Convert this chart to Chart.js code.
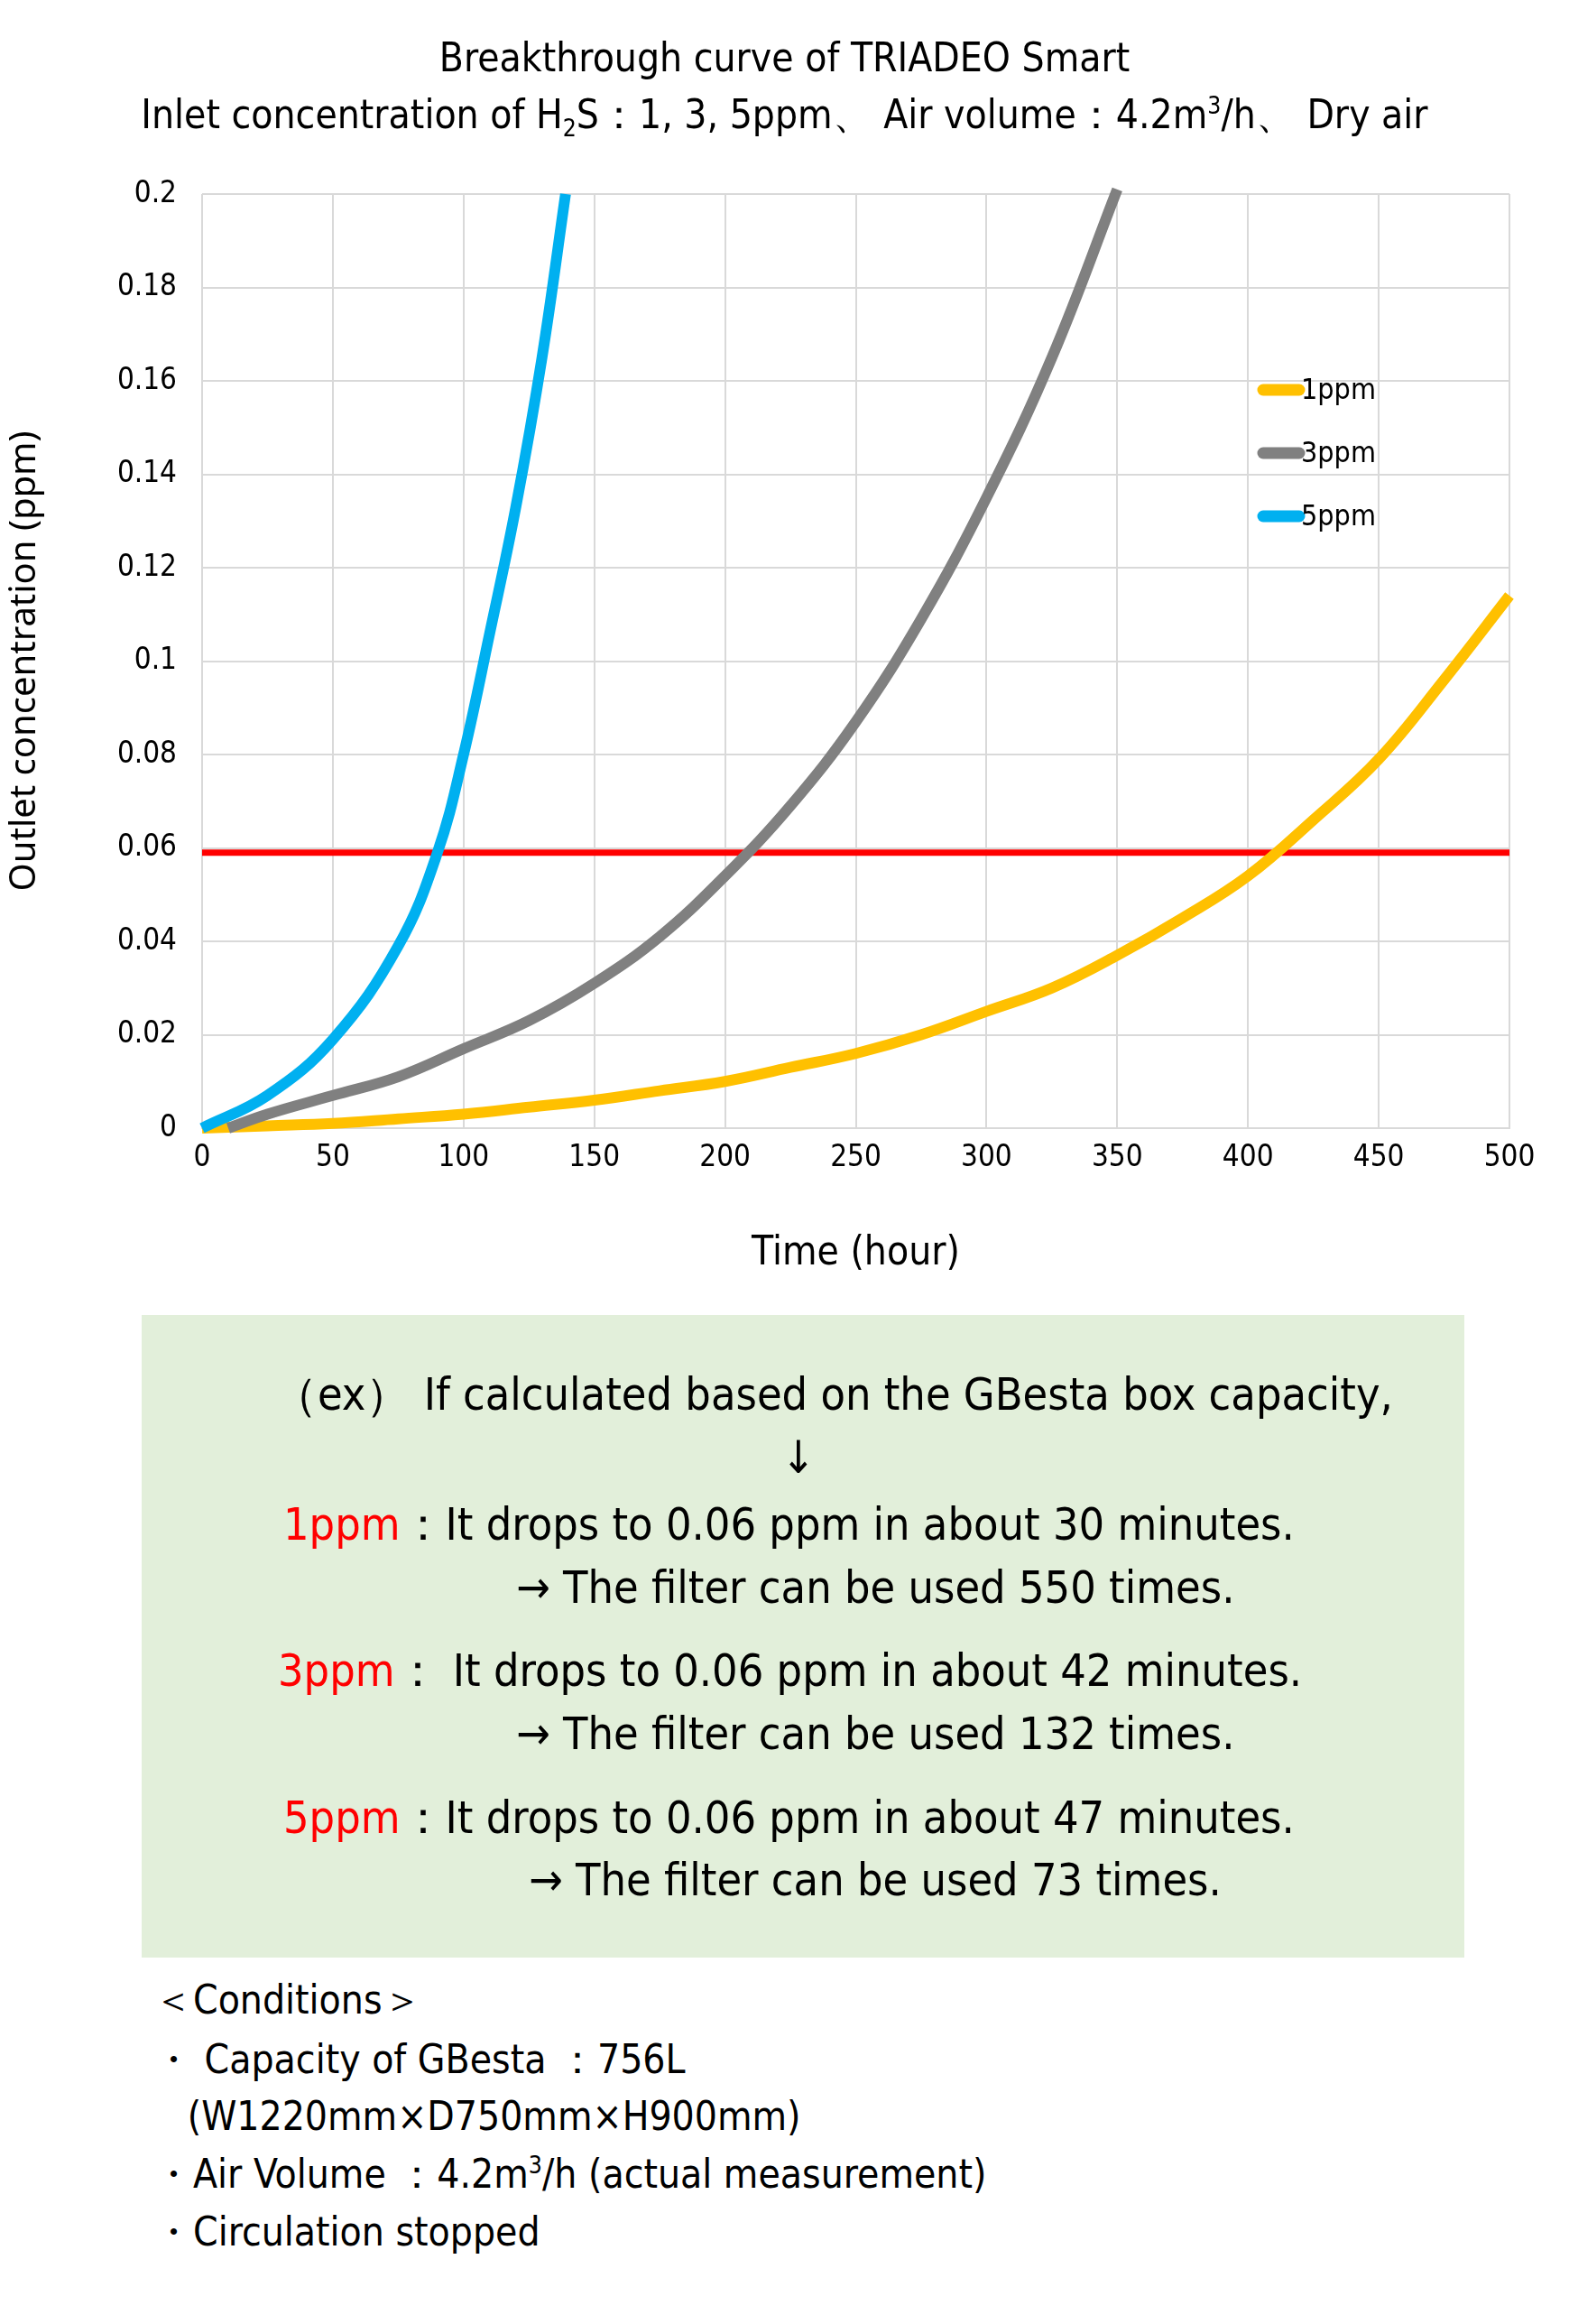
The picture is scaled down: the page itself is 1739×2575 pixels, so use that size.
<!DOCTYPE html>
<html><head><meta charset="utf-8">
<script src="https://cdn.jsdelivr.net/npm/chart.js@4"></script>
<style>
body{margin:0;background:#fff;width:1739px;height:2575px;position:relative;font-family:"Liberation Sans Narrow","DejaVu Sans Condensed",sans-serif;color:#000;overflow:hidden}
.t{position:absolute;left:0;width:1739px;text-align:center;font-size:44px;line-height:1}
#wrap{position:absolute;left:0;top:0;width:1739px;height:1420px}
#box{position:absolute;left:157px;top:1457px;width:1466px;height:712px;background:#e2efda}
.l{position:absolute;font-size:50px;line-height:1;white-space:pre}
.r{color:#ff0000}
.c{position:absolute;left:170px;font-size:44px;line-height:1;white-space:pre}
sub,sup{font-size:60%}
</style></head><body>
<div id="wrap"><canvas id="c"></canvas></div>
<div class="t" style="top:42px">Breakthrough curve of TRIADEO Smart</div>
<div class="t" style="top:104px">Inlet concentration of H<sub>2</sub>S：1, 3, 5ppm、 Air volume：4.2m<sup>3</sup>/h、 Dry air</div>
<div id="box"></div>
<div class="l" style="left:302px;top:1520px">（ex） If calculated based on the GBesta box capacity,</div>
<div class="l" style="left:866px;top:1590px">↓</div>
<div class="l" style="left:314px;top:1664px"><span class="r">1ppm</span>：It drops to 0.06 ppm in about 30 minutes.</div>
<div class="l" style="left:572px;top:1734px">→ The filter can be used 550 times.</div>
<div class="l" style="left:308px;top:1826px"><span class="r">3ppm</span>： It drops to 0.06 ppm in about 42 minutes.</div>
<div class="l" style="left:572px;top:1896px">→ The filter can be used 132 times.</div>
<div class="l" style="left:314px;top:1989px"><span class="r">5ppm</span>：It drops to 0.06 ppm in about 47 minutes.</div>
<div class="l" style="left:586px;top:2058px">→ The filter can be used 73 times.</div>
<div class="c" style="top:2194px">＜Conditions＞</div>
<div class="c" style="top:2260px">・ Capacity of GBesta ：756L</div>
<div class="c" style="top:2323px">   (W1220mm×D750mm×H900mm)</div>
<div class="c" style="top:2386px">・Air Volume ：4.2m<sup>3</sup>/h (actual measurement)</div>
<div class="c" style="top:2451px">・Circulation stopped</div>
<script>
const seriesNames=["1ppm","3ppm","5ppm"];
const colors=["#ffc000","#808080","#00b0f0"];
const x1=[0,25,50,75,100,125,150,175,200,225,250,275,300,325,350,375,400,425,450,475,500];
const y1=[0,0.0005,0.001,0.002,0.003,0.0045,0.006,0.008,0.010,0.013,0.016,0.020,0.025,0.030,0.037,0.045,0.054,0.066,0.079,0.096,0.114];
const x3=[10,25,50,75,100,125,150,175,200,225,250,275,300,325,350];
const y3=[0,0.003,0.007,0.011,0.017,0.023,0.031,0.041,0.054,0.069,0.087,0.109,0.135,0.165,0.201];
const x5=[0,25,50,75,90,100,110,120,130,139];
const y5=[0,0.007,0.019,0.039,0.059,0.080,0.106,0.133,0.165,0.2];
const thresholdX=[0,500];const thresholdY=[0.059,0.059];
const xTicks=[0,50,100,150,200,250,300,350,400,450,500];
const pts=(xs,ys)=>xs.map((x,i)=>({x,y:ys[i]}));
const font="'Liberation Sans Narrow','DejaVu Sans Condensed',sans-serif";
const legendPlugin={id:'lg',afterDraw(ch){const g=ch.ctx;g.save();
 [0,1,2].forEach(i=>{const y=432+i*70;g.strokeStyle=colors[i];g.lineWidth=13;g.lineCap='round';
 g.beginPath();g.moveTo(1400,y);g.lineTo(1440,y);g.stroke();
 g.fillStyle='#000';g.font="32px "+font;g.textBaseline='middle';g.fillText(seriesNames[i],1442,y+2);});g.restore();}};
new Chart(document.getElementById('c'),{type:'line',
 data:{datasets:[
  {label:seriesNames[2],data:pts(x5,y5),borderColor:colors[2]},
  {label:seriesNames[1],data:pts(x3,y3),borderColor:colors[1]},
  {label:seriesNames[0],data:pts(x1,y1),borderColor:colors[0]},
  {label:'th',data:pts(thresholdX,thresholdY),borderColor:'#ff0000',borderWidth:7,tension:0}
 ].map(d=>Object.assign({borderWidth:12,pointRadius:0,tension:0.4,fill:false,clip:false},d))},
 options:{responsive:true,maintainAspectRatio:false,animation:false,
  layout:{padding:{top:215,right:66,left:0,bottom:0}},
  plugins:{legend:{display:false},tooltip:{enabled:false}},
  scales:{
   x:{type:'linear',min:0,max:500,afterFit:s=>{s.height=170},
    afterBuildTicks:s=>{s.ticks=xTicks.map(v=>({value:v}))},
    grid:{color:'#d9d9d9',lineWidth:2,drawTicks:false},border:{color:'#d9d9d9',width:2},
    ticks:{font:{size:33,family:font},color:'#000',padding:14},
    title:{display:true,text:'Time (hour)',font:{size:44,family:font},color:'#000',padding:{top:18}}},
   y:{min:0,max:0.2,afterFit:s=>{s.width=224},
    grid:{color:'#d9d9d9',lineWidth:2,drawTicks:false},border:{display:false},
    ticks:{stepSize:0.02,font:{size:33,family:font},color:'#000',padding:28,callback:v=>String(+v.toFixed(2))},
    title:{display:true,text:'Outlet concentration (ppm)',font:{size:40,family:"'Noto Sans',sans-serif"},color:'#000',padding:{bottom:10}}}
  }},plugins:[legendPlugin]});
</script></body></html>
